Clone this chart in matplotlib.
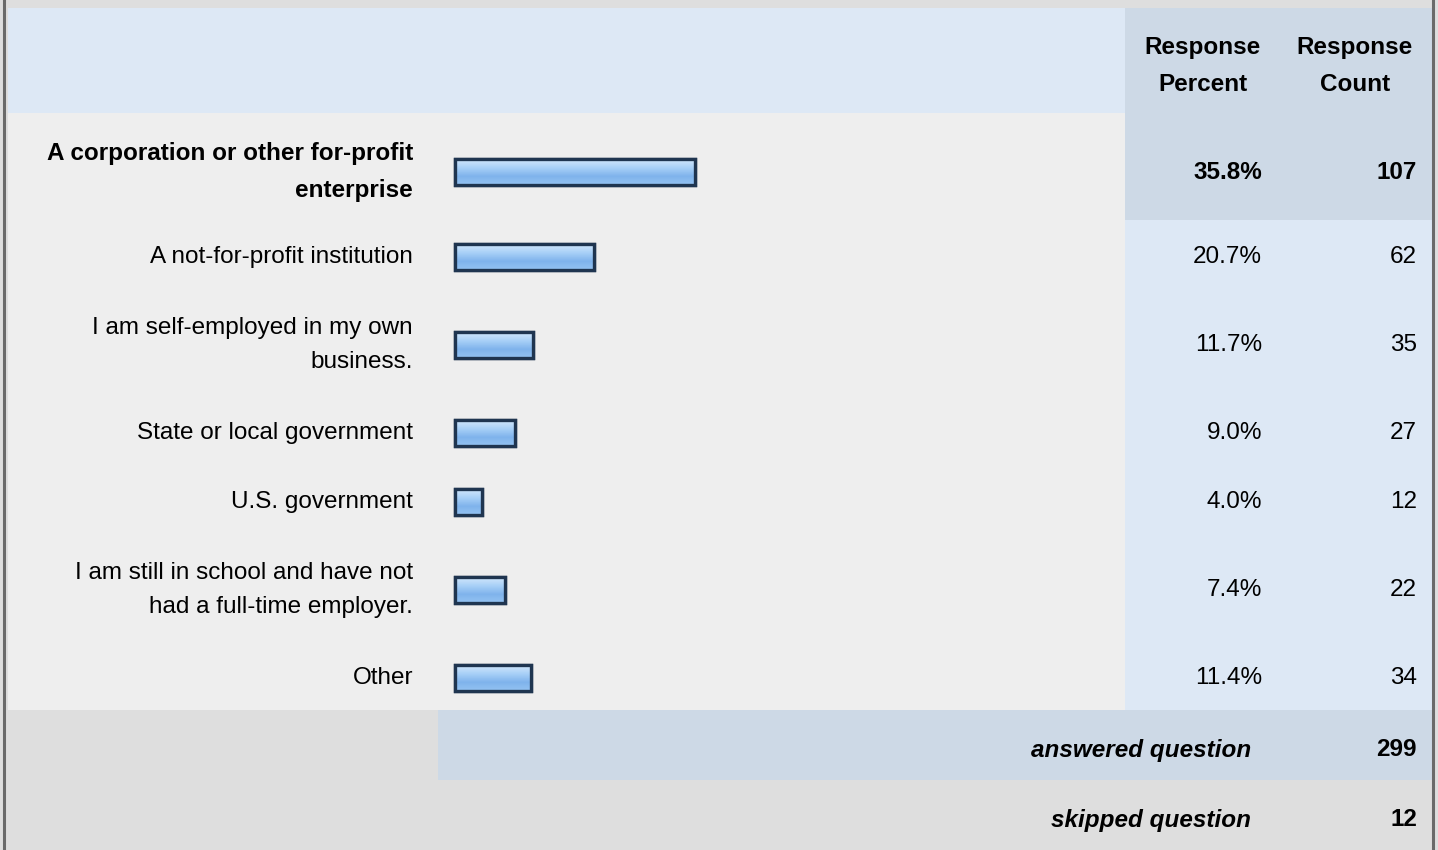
#!/usr/bin/env python3
"""Survey results table: employer type, response percent and count."""
import numpy as np
import matplotlib
matplotlib.use("Agg")
import matplotlib.pyplot as plt
from matplotlib.patches import Rectangle

# ── Data ──────────────────────────────────────────────────────────────────────
categories = [
    "A corporation or other for-profit\nenterprise",
    "A not-for-profit institution",
    "I am self-employed in my own\nbusiness.",
    "State or local government",
    "U.S. government",
    "I am still in school and have not\nhad a full-time employer.",
    "Other",
]
percents = [35.8, 20.7, 11.7, 9.0, 4.0, 7.4, 11.4]
counts = [107, 62, 35, 27, 12, 22, 34]
answered = 299
skipped = 12

# ── Layout (pixels, figure is 1438 x 850) ─────────────────────────────────────
W, H = 1438, 850
centers = [172, 257, 345, 433, 502, 590, 678]
bar_left = 455
px_per_pct = 6.7
bar_h = 26
col_split = 1125
FS = 17.5
LS = 1.73

FONT = ["Liberation Sans", "DejaVu Sans"]
plt.rcParams["font.family"] = FONT

C_HEAD = "#dde8f5"
C_HEAD2 = "#cdd9e6"
C_BODY = "#eeeeee"
C_FOOT = "#dedede"

fig = plt.figure(figsize=(W / 100, H / 100), dpi=100)
ax = fig.add_axes([0, 0, 1, 1])
ax.set_xlim(0, W)
ax.set_ylim(H, 0)
ax.axis("off")


def box(x0, y0, x1, y1, color):
    ax.add_patch(Rectangle((x0, y0), x1 - x0, y1 - y0, facecolor=color,
                           edgecolor="none", zorder=0))


# backgrounds
box(0, 0, W, H, C_FOOT)
box(8, 8, col_split, 113, C_HEAD)
box(col_split, 8, 1432, 113, C_HEAD2)
box(8, 113, col_split, 710, C_BODY)
box(col_split, 113, 1432, 710, C_HEAD)
box(col_split, 113, 1432, 220, C_HEAD2)   # highlighted first row
box(438, 710, 1432, 780, C_HEAD2)
# outer frame lines
ax.plot([4, 4], [0, H], color="#6a6a6a", lw=2.2, zorder=5)
ax.plot([1433, 1433], [0, H], color="#6a6a6a", lw=2.2, zorder=5)

# header
ax.text(1203, 66, "Response\nPercent", ha="center", va="center", fontsize=FS,
        fontweight="bold", linespacing=LS)
ax.text(1355, 66, "Response\nCount", ha="center", va="center", fontsize=FS,
        fontweight="bold", linespacing=LS)

# bars
widths = [p * px_per_pct for p in percents]
bars = ax.barh(centers, widths, left=bar_left, height=bar_h,
               color="#8fc0f2", edgecolor="#1f3550", linewidth=2.4, zorder=3)

# gradient fill inside each bar
grad = np.linspace(0, 1, 64).reshape(-1, 1)
grad_cmap = matplotlib.colors.LinearSegmentedColormap.from_list(
    "bar", ["#d2e7fc", "#a8d0f7", "#7fb3ec", "#94c3f2"])
for b in bars:
    x0, y0 = b.get_x(), b.get_y()
    im = ax.imshow(grad, cmap=grad_cmap, aspect="auto", zorder=3.5,
                   extent=(x0, x0 + b.get_width(), y0 + b.get_height(), y0))
    im.set_clip_path(b)
    ax.add_patch(Rectangle((x0, y0), b.get_width(), b.get_height(),
                           facecolor="none", edgecolor="#1f3550", lw=2.4,
                           zorder=4))

# row texts
for i, (cat, pct, cnt, yc) in enumerate(zip(categories, percents, counts, centers)):
    weight = "bold" if i == 0 else "normal"
    ax.text(413, yc, cat, ha="right", va="center",
            fontsize=FS, fontweight=weight, linespacing=LS)
    ax.text(1262, yc, f"{pct:.1f}%", ha="right", va="center", fontsize=FS,
            fontweight=weight)
    ax.text(1417, yc, f"{cnt}", ha="right", va="center", fontsize=FS,
            fontweight=weight)

# footer
ax.text(1251, 750, "answered question", ha="right", va="center", fontsize=FS,
        fontweight="bold", fontstyle="italic")
ax.text(1417, 750, f"{answered}", ha="right", va="center", fontsize=FS,
        fontweight="bold")
ax.text(1251, 820, "skipped question", ha="right", va="center", fontsize=FS,
        fontweight="bold", fontstyle="italic")
ax.text(1417, 820, f"{skipped}", ha="right", va="center", fontsize=FS,
        fontweight="bold")

fig.savefig("out.png", dpi=100)
